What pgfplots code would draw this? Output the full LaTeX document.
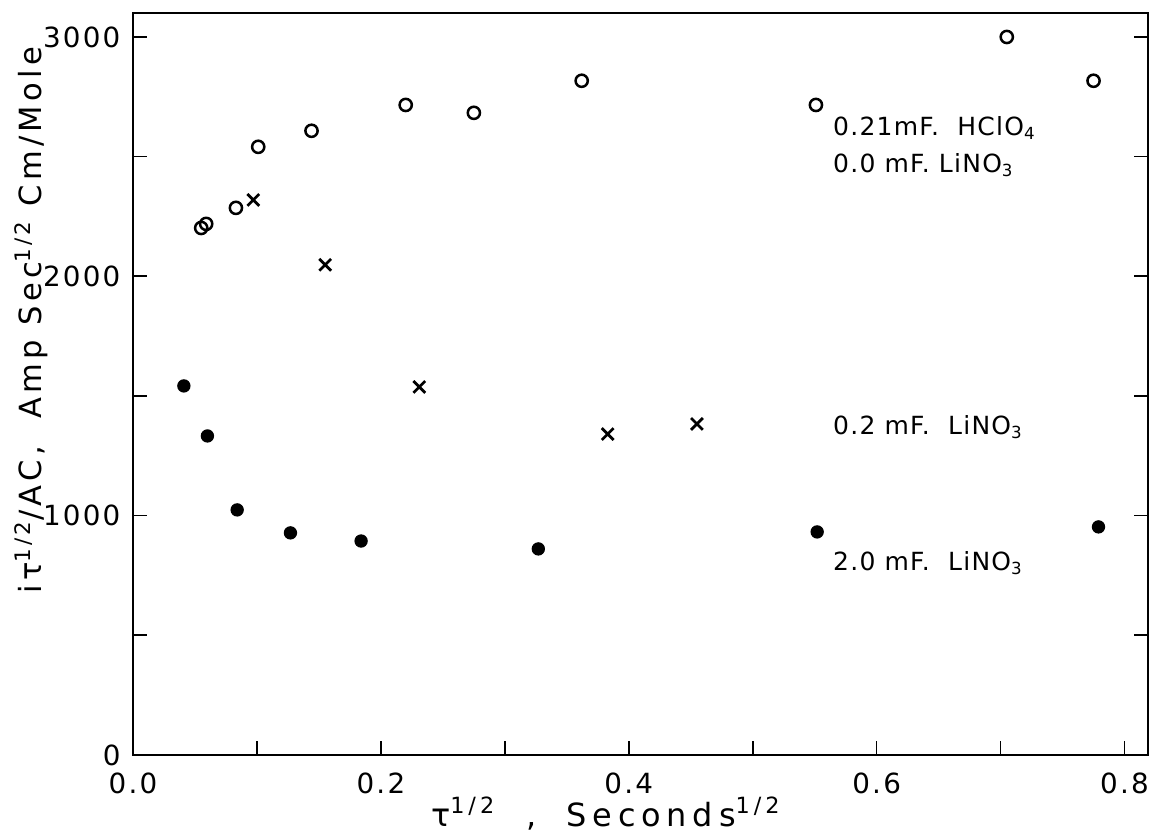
\documentclass[border=0pt]{standalone}
\usepackage{fontspec}
\setmainfont{DejaVu Sans}
\newfontfamily\spaced[LetterSpace=14]{DejaVu Sans}
\newfontfamily\xspaced[LetterSpace=18]{DejaVu Sans}
\newfontfamily\tspaced[LetterSpace=8]{DejaVu Sans}
\newfontfamily\aspaced[LetterSpace=5]{DejaVu Sans}
\usepackage{pgfplots}
\pgfplotsset{compat=1.18}
\begin{document}
\begin{tikzpicture}
\begin{axis}[
  scale only axis,
  width=365.4pt, height=267.1pt,
  xmin=0, xmax=0.819, ymin=0, ymax=3100,
  axis line style={line width=1pt},
  xtick={0,0.1,0.2,0.3,0.4,0.5,0.6,0.7,0.8},
  xticklabels={0.0,,0.2,,0.4,,0.6,,0.8},
  ytick={0,500,1000,1500,2000,2500,3000},
  yticklabels={0,,1000,,2000,,3000},
  xtick pos=bottom, ytick pos=both,
  xtick align=inside, ytick align=inside, major tick length=5pt,
  tick style={line width=0.6pt, black},
  /pgf/number format/assume math mode=true,
  ticklabel style={font=\tspaced\fontsize{10}{11}\selectfont},
  xticklabel style={yshift=-3pt},
  yticklabel style={xshift=-1pt},
  xlabel={\xspaced τ\textsuperscript{1/2}\hspace{11pt},\hspace{11pt}Seconds\textsuperscript{1/2}},
  xlabel style={font=\fontsize{11.5}{12}\selectfont, at={(axis description cs:0.466,-0.079)}, anchor=center},
  ylabel={\spaced iτ\textsuperscript{1/2}/AC,\hspace{10pt}Amp\ Sec\textsuperscript{1/2}\ Cm/Mole},
  ylabel style={font=\fontsize{11}{12}\selectfont, at={(axis description cs:-0.1,0.586)}, anchor=center},
  clip=false,
]
\addplot[only marks, mark=o, mark size=2.2pt, line width=0.9pt] coordinates {
(0.055,2202) (0.059,2219) (0.083,2286) (0.101,2541) (0.144,2608)
(0.220,2716) (0.275,2683) (0.362,2817) (0.551,2716) (0.705,3000) (0.775,2817)
};
\addplot[only marks, mark=x, mark size=3pt, line width=1pt] coordinates {
(0.097,2319) (0.155,2048) (0.231,1538) (0.383,1341) (0.455,1383)
};
\addplot[only marks, mark=*, mark size=2.2pt] coordinates {
(0.041,1542) (0.060,1333) (0.084,1024) (0.127,928) (0.184,894)
(0.327,861) (0.552,932) (0.779,953)
};
\node[anchor=west, font=\aspaced\fontsize{9}{10}\selectfont] at (axis cs:0.557,2620) {0.21mF.\ \ HClO\textsubscript{4}};
\node[anchor=west, font=\aspaced\fontsize{9}{10}\selectfont] at (axis cs:0.557,2466) {0.0 mF.\ LiNO\textsubscript{3}};
\node[anchor=west, font=\aspaced\fontsize{9}{10}\selectfont] at (axis cs:0.557,1371) {0.2 mF.\ \ LiNO\textsubscript{3}};
\node[anchor=west, font=\aspaced\fontsize{9}{10}\selectfont] at (axis cs:0.557,802) {2.0 mF.\ \ LiNO\textsubscript{3}};
\end{axis}
\pgfresetboundingbox
\path ([xshift=-47.9pt,yshift=-28.8pt]current axis.south west) rectangle ([xshift=0.7pt,yshift=4.7pt]current axis.north east);
\end{tikzpicture}
\end{document}
